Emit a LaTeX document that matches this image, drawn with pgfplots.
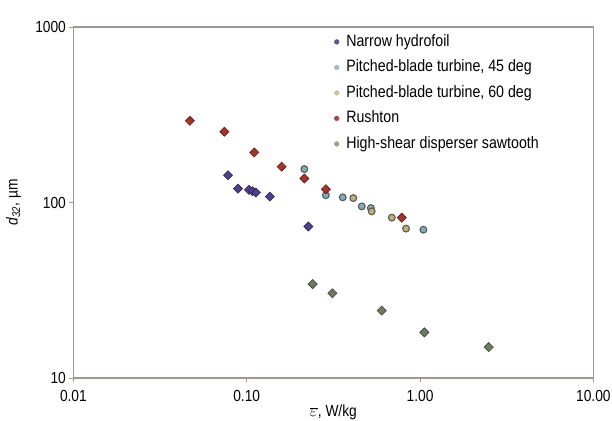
\documentclass[border=0pt]{standalone}
\usepackage{fontspec}
\setmainfont{Liberation Sans}[FakeStretch=0.86]
\usepackage{pgfplots}
\pgfplotsset{compat=1.18}
\definecolor{axgray}{RGB}{160,150,148}
\definecolor{hfpurple}{RGB}{78,64,138}
\definecolor{pbtA}{RGB}{130,172,186}
\definecolor{pbtB}{RGB}{190,176,118}
\definecolor{rush}{RGB}{165,52,44}
\definecolor{hsd}{RGB}{108,124,92}
\definecolor{legpurple}{RGB}{100,86,140}
\definecolor{legA}{RGB}{170,182,190}
\definecolor{legB}{RGB}{204,196,160}
\definecolor{legR}{RGB}{165,70,62}
\definecolor{legG}{RGB}{150,165,140}
\begin{document}
\begin{tikzpicture}
\begin{axis}[
  at={(0,0)}, anchor=south west,
  scale only axis, width=520pt, height=351pt,
  xmode=log, ymode=log,
  xmin=0.01, xmax=10, ymin=10, ymax=1000,
  axis line style={axgray, line width=1.2pt},
  xtick={0.01,0.1,1,10}, xticklabels={0.01,0.10,1.00,10.00},
  ytick={10,100,1000}, yticklabels={10,100,1000},
  xminorticks=false, yminorticks=false,
  xtick pos=left, ytick pos=left,
  tick align=outside, major tick length=4pt,
  tick style={axgray, line width=0.8pt},
  /pgf/number format/assume math mode=true,
  tick label style={font=\fontsize{16}{19}\selectfont},
  xticklabel style={yshift=-5pt},
  label style={font=\fontsize{16}{19}\selectfont},
  xlabel={$\overline{\varepsilon}$, W/kg},
  ylabel={\textit{d}\textsubscript{\textit{32}}, µm},
  xlabel style={at={(axis description cs:0.5,-0.0983)}, anchor=center},
  ylabel style={at={(axis description cs:-0.1154,0.5)}, anchor=center},
  legend style={at={(axis description cs:0.501,0.983)}, anchor=north west,
    draw=none, fill=none, inner sep=0pt, row sep=8pt, column sep=6pt,
    font=\fontsize{16.5}{19}\selectfont,
    nodes={text height=12pt, text depth=3.5pt, inner sep=1pt}},
  legend cell align=left,
  legend image code/.code={\fill[#1] (0.1cm,0cm) circle[radius=2.4pt];},
]
\addlegendimage{legpurple}
\addlegendentry{Narrow hydrofoil}
\addlegendimage{legA}
\addlegendentry{Pitched-blade turbine, 45 deg}
\addlegendimage{legB}
\addlegendentry{Pitched-blade turbine, 60 deg}
\addlegendimage{legR}
\addlegendentry{Rushton}
\addlegendimage{legG}
\addlegendentry{High-shear disperser sawtooth}

% Pitched-blade turbine, 45 deg
\addplot[forget plot, only marks, mark=*, mark size=3.4pt,
  mark options={fill=pbtA, draw=black!65, line width=1.1pt}] coordinates {
  (0.215,155) (0.286,110) (0.358,107) (0.461,95) (0.52,93) (1.045,70)};
% Pitched-blade turbine, 60 deg
\addplot[forget plot, only marks, mark=*, mark size=3.4pt,
  mark options={fill=pbtB, draw=black!65, line width=1.1pt}] coordinates {
  (0.412,106) (0.526,89) (0.687,82) (0.830,71)};
% Narrow hydrofoil
\addplot[forget plot, only marks, mark=square*, mark size=3.2pt,
  mark options={rotate=45, fill=hfpurple, draw=hfpurple!55!black, line width=0.6pt}] coordinates {
  (0.078,143) (0.089,120) (0.103,118) (0.108,116) (0.113,114) (0.136,108) (0.227,73)};
% Rushton
\addplot[forget plot, only marks, mark=square*, mark size=3.2pt,
  mark options={rotate=45, fill=rush, draw=rush!55!black, line width=0.6pt}] coordinates {
  (0.047,292) (0.0743,253) (0.1106,193) (0.159,160) (0.215,137) (0.286,119) (0.784,82)};
% High-shear disperser sawtooth
\addplot[forget plot, only marks, mark=square*, mark size=3.2pt,
  mark options={rotate=45, fill=hsd, draw=black!70, line width=0.8pt}] coordinates {
  (0.240,34.3) (0.312,30.4) (0.601,24.2) (1.059,18.2) (2.49,15.0)};
\end{axis}
\pgfresetboundingbox
\useasboundingbox (-73.4pt,-42pt) rectangle (538.6pt,378pt);
\end{tikzpicture}
\end{document}
